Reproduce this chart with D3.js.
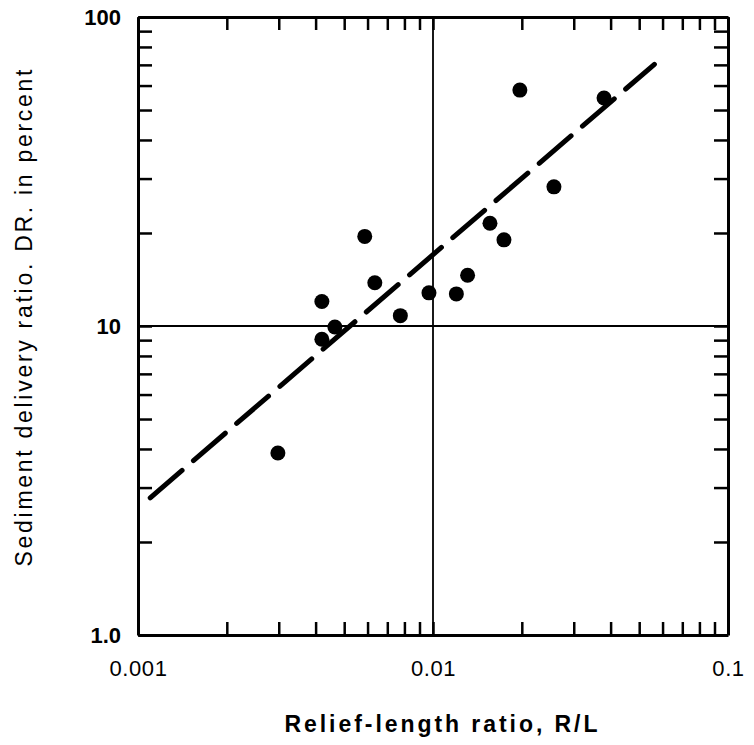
<!DOCTYPE html>
<html>
<head>
<meta charset="utf-8">
<script src="https://cdn.jsdelivr.net/npm/d3@7.9.0/dist/d3.min.js"></script>
<style>
  body { margin: 0; background: #fff; }
  svg { font-family: "Liberation Sans", Arial, sans-serif; }
</style>
</head>
<body>
<svg width="754" height="745"></svg>
<script>
// Relief-length ratio (x) and sediment delivery ratio in percent (y)
const reliefRatio = [0.00298, 0.0042, 0.0042, 0.00465, 0.00587, 0.00635, 0.00775,
  0.00969, 0.012, 0.0131, 0.0156, 0.0174, 0.0197, 0.0257, 0.038];
const deliveryRatio = [3.88, 12.0, 9.06, 9.93, 19.5, 13.8, 10.8,
  12.8, 12.7, 14.6, 21.5, 19.0, 58.0, 28.2, 54.7];

// fitted line end points
const fitX = [0.0011, 0.0563];
const fitY = [2.78, 70.3];

const xDecades = [0.001, 0.01, 0.1];
const yDecades = [1, 10, 100];
const xTickLabels = ['0.001', '0.01', '0.1'];
const yTickLabels = ['1.0', '10', '100'];

const svg = d3.select('svg');

let x = d3.scaleLog().domain([0.001, 0.1]).range([138, 728]);
let y = d3.scaleLog().domain([1, 100]).range([635, 17]);

// minor ticks 1..9 in each decade
function minorTicks(decades) {
  let out = [];
  decades.slice(0, -1).forEach((d) => {
    for (let k = 1; k < 10; k++) out.push(d * k);
  });
  out.push(decades[decades.length - 1]);
  return out;
}

const xFmt = (d) => {
  let i = xDecades.findIndex((v) => Math.abs(v - d) / v < 1e-6);
  return i >= 0 ? xTickLabels[i] : '';
};
const yFmt = (d) => {
  let i = yDecades.findIndex((v) => Math.abs(v - d) / v < 1e-6);
  return i >= 0 ? yTickLabels[i] : '';
};

// grid lines at 0.01 and 10
svg.append('line')
  .attr('x1', x(0.01)).attr('x2', x(0.01))
  .attr('y1', y(1)).attr('y2', y(100))
  .attr('stroke', '#000').attr('stroke-width', 1.8);
svg.append('line')
  .attr('x1', x(0.001)).attr('x2', x(0.1))
  .attr('y1', y(10)).attr('y2', y(10))
  .attr('stroke', '#000').attr('stroke-width', 1.8);

// axes, ticks pointing inward
let axisB = svg.append('g')
  .attr('transform', `translate(0,${y(1)})`)
  .call(d3.axisBottom(x).tickValues(minorTicks(xDecades)).tickFormat(xFmt)
    .tickSizeInner(-13).tickSizeOuter(0).tickPadding(25));
let axisT = svg.append('g')
  .attr('transform', `translate(0,${y(100)})`)
  .call(d3.axisTop(x).tickValues(minorTicks(xDecades)).tickFormat('')
    .tickSizeInner(-13).tickSizeOuter(0));
let axisL = svg.append('g')
  .attr('transform', `translate(${x(0.001)},0)`)
  .call(d3.axisLeft(y).tickValues(minorTicks(yDecades)).tickFormat(yFmt)
    .tickSizeInner(-14).tickSizeOuter(0).tickPadding(17));
let axisR = svg.append('g')
  .attr('transform', `translate(${x(0.1)},0)`)
  .call(d3.axisRight(y).tickValues(minorTicks(yDecades)).tickFormat('')
    .tickSizeInner(-14).tickSizeOuter(0));

[axisB, axisT, axisL, axisR].forEach((g) => {
  g.select('.domain').attr('stroke', '#000').attr('stroke-width', 3);
  g.selectAll('.tick line').attr('stroke', '#000').attr('stroke-width', 2.5);
});

axisB.selectAll('.tick text')
  .attr('fill', '#000').attr('font-size', 22).attr('letter-spacing', 0.6);
axisL.selectAll('.tick text')
  .attr('fill', '#000').attr('font-size', 22).attr('font-weight', 'bold');

// dashed fitted line
let line = d3.line().x((d) => x(d[0])).y((d) => y(d[1]));
svg.append('path')
  .attr('d', line(d3.zip(fitX, fitY)))
  .attr('fill', 'none')
  .attr('stroke', '#000')
  .attr('stroke-width', 5)
  .attr('stroke-linecap', 'round')
  .attr('stroke-dasharray', '42,15');

// points
svg.append('g')
  .selectAll('circle')
  .data(d3.zip(reliefRatio, deliveryRatio))
  .join('circle')
  .attr('cx', (d) => x(d[0]))
  .attr('cy', (d) => y(d[1]))
  .attr('r', 7.5)
  .attr('fill', '#000');

// axis titles
svg.append('text')
  .attr('x', 441).attr('y', 732)
  .attr('text-anchor', 'middle')
  .attr('font-size', 23).attr('font-weight', 'bold')
  .attr('textLength', 313).attr('lengthAdjust', 'spacing')
  .text('Relief-length ratio, R/L');

svg.append('text')
  .attr('transform', 'translate(32,318) rotate(-90)')
  .attr('text-anchor', 'middle')
  .attr('font-size', 23)
  .attr('textLength', 497).attr('lengthAdjust', 'spacing')
  .text('Sediment delivery ratio. DR. in percent');
</script>
</body>
</html>
